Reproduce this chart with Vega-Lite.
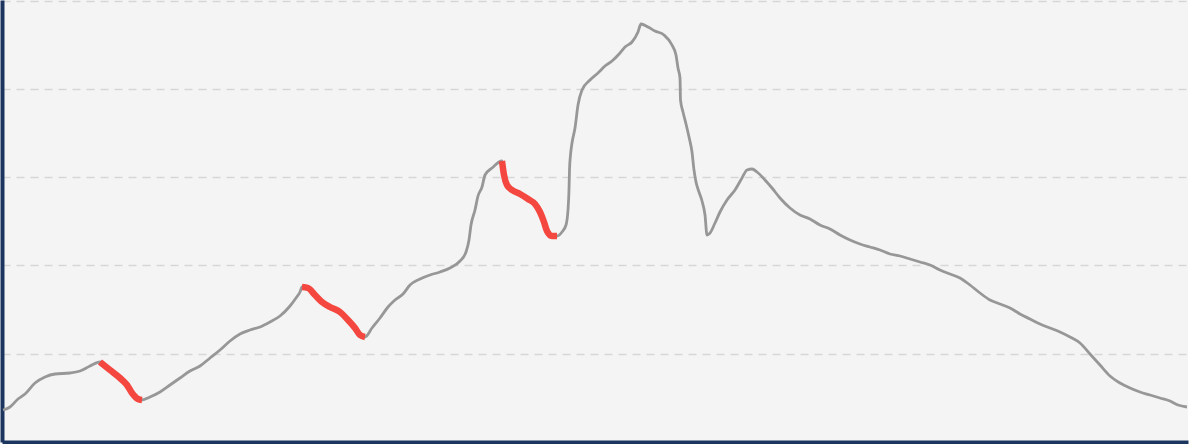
{
  "$schema": "https://vega.github.io/schema/vega-lite/v6.json",
  "autosize": "none",
  "padding": {"left": 2, "top": 0, "right": 2, "bottom": 2},
  "width": 1186,
  "height": 442,
  "background": "#ffffff",
  "config": {"view": {"stroke": null, "fill": "#f4f4f4"}},
  "datasets": {
    "base": [
      {"x":3,"y":32},{"x":10,"y":35},{"x":18,"y":43},{"x":25,"y":48},{"x":35,"y":59},{"x":45,"y":65},{"x":55,"y":68},{"x":70,"y":69},{"x":80,"y":71},{"x":90,"y":76},{"x":100,"y":80},{"x":110,"y":72},{"x":120,"y":64},{"x":127,"y":57},{"x":132,"y":49},{"x":138,"y":43},{"x":142,"y":42},{"x":150,"y":45},{"x":160,"y":50},{"x":170,"y":57},{"x":180,"y":64},{"x":190,"y":71},{"x":200,"y":76},{"x":210,"y":84},{"x":220,"y":92},{"x":230,"y":101},{"x":240,"y":108},{"x":250,"y":112},{"x":260,"y":115},{"x":270,"y":120},{"x":280,"y":126},{"x":290,"y":136},{"x":296,"y":144},{"x":300,"y":150},{"x":302,"y":155},{"x":308,"y":154},{"x":315,"y":147},{"x":322,"y":140},{"x":330,"y":135},{"x":340,"y":130},{"x":348,"y":122},{"x":355,"y":114},{"x":360,"y":107},{"x":365,"y":105},{"x":372,"y":114},{"x":380,"y":124},{"x":388,"y":135},{"x":395,"y":142},{"x":403,"y":148},{"x":410,"y":157},{"x":420,"y":163},{"x":430,"y":167},{"x":440,"y":170},{"x":450,"y":174},{"x":460,"y":181},{"x":466,"y":190},{"x":469,"y":202},{"x":471,"y":217},{"x":475,"y":232},{"x":478,"y":246},{"x":482,"y":255},{"x":485,"y":267},{"x":492,"y":274},{"x":502,"y":281},{"x":504,"y":267},{"x":507,"y":257},{"x":512,"y":252},{"x":520,"y":248},{"x":528,"y":243},{"x":535,"y":238},{"x":540,"y":230},{"x":544,"y":220},{"x":547,"y":211},{"x":552,"y":206},{"x":557,"y":206},{"x":562,"y":210},{"x":566,"y":217},{"x":568,"y":232},{"x":569,"y":252},{"x":569.5,"y":272},{"x":570.5,"y":287},{"x":572,"y":299},{"x":575,"y":314},{"x":578,"y":337},{"x":582,"y":352},{"x":590,"y":362},{"x":598,"y":369},{"x":605,"y":376},{"x":612,"y":381},{"x":620,"y":389},{"x":625,"y":395},{"x":632,"y":400},{"x":638,"y":410},{"x":641,"y":418},{"x":648,"y":415},{"x":655,"y":411},{"x":664,"y":407},{"x":672,"y":397},{"x":676,"y":387},{"x":678,"y":374},{"x":680,"y":364},{"x":680.5,"y":342},{"x":683,"y":330},{"x":686,"y":318},{"x":689,"y":305},{"x":692,"y":290},{"x":694,"y":272},{"x":696,"y":260},{"x":699,"y":250},{"x":702,"y":241},{"x":705,"y":227},{"x":707,"y":207},{"x":710,"y":209},{"x":715,"y":219},{"x":720,"y":230},{"x":727,"y":242},{"x":735,"y":252},{"x":742,"y":264},{"x":747,"y":272},{"x":752,"y":273},{"x":757,"y":270},{"x":765,"y":262},{"x":772,"y":254},{"x":780,"y":244},{"x":790,"y":234},{"x":800,"y":227},{"x":810,"y":223},{"x":820,"y":217},{"x":830,"y":213},{"x":840,"y":207},{"x":850,"y":202},{"x":860,"y":198},{"x":870,"y":195},{"x":880,"y":192},{"x":890,"y":188},{"x":900,"y":186},{"x":910,"y":183},{"x":920,"y":180},{"x":930,"y":177},{"x":940,"y":172},{"x":950,"y":168},{"x":960,"y":164},{"x":970,"y":157},{"x":980,"y":149},{"x":990,"y":142},{"x":1000,"y":138},{"x":1010,"y":134},{"x":1020,"y":128},{"x":1030,"y":123},{"x":1040,"y":118},{"x":1050,"y":114},{"x":1060,"y":110},{"x":1070,"y":105},{"x":1080,"y":99},{"x":1090,"y":88},{"x":1100,"y":77},{"x":1110,"y":66},{"x":1120,"y":59},{"x":1130,"y":54},{"x":1140,"y":50},{"x":1150,"y":47},{"x":1160,"y":44},{"x":1170,"y":41},{"x":1178,"y":37},{"x":1187,"y":35}
    ],
    "hl": [
      {"s":"a","x":100,"y":80},{"s":"a","x":110,"y":72},{"s":"a","x":120,"y":64},{"s":"a","x":127,"y":57},{"s":"a","x":132,"y":49},{"s":"a","x":138,"y":43},{"s":"a","x":142,"y":42},
      {"s":"b","x":302,"y":155},{"s":"b","x":308,"y":154},{"s":"b","x":315,"y":147},{"s":"b","x":322,"y":140},{"s":"b","x":330,"y":135},{"s":"b","x":340,"y":130},{"s":"b","x":348,"y":122},{"s":"b","x":355,"y":114},{"s":"b","x":360,"y":107},{"s":"b","x":365,"y":105},
      {"s":"c","x":502,"y":281},{"s":"c","x":504,"y":267},{"s":"c","x":507,"y":257},{"s":"c","x":512,"y":252},{"s":"c","x":520,"y":248},{"s":"c","x":528,"y":243},{"s":"c","x":535,"y":238},{"s":"c","x":540,"y":230},{"s":"c","x":544,"y":220},{"s":"c","x":547,"y":211},{"s":"c","x":552,"y":206},{"s":"c","x":557,"y":206}
    ]
  },
  "encoding": {
    "x": {"field": "x", "type": "quantitative", "scale": {"domain": [2, 1188], "nice": false, "zero": false},
      "axis": {"title": null, "labels": false, "ticks": false, "grid": false, "domainColor": "#1b355f", "domainWidth": 4}},
    "y": {"field": "y", "type": "quantitative", "scale": {"domain": [0, 442], "nice": false},
      "axis": {"title": null, "labels": false, "ticks": false, "values": [88, 177, 265, 353, 441], "grid": true, "gridColor": "#d6d6d6", "gridDash": [8, 6], "gridWidth": 1.3, "domainColor": "#1b355f", "domainWidth": 4}}
  },
  "layer": [
    {"data": {"name": "base"}, "mark": {"type": "line", "color": "#979797", "strokeWidth": 2.8, "interpolate": "monotone"}},
    {"data": {"name": "hl"}, "mark": {"type": "line", "color": "#f4473f", "strokeWidth": 6.5, "strokeCap": "butt", "interpolate": "monotone"},
      "encoding": {"detail": {"field": "s", "type": "nominal"}}}
  ]
}
